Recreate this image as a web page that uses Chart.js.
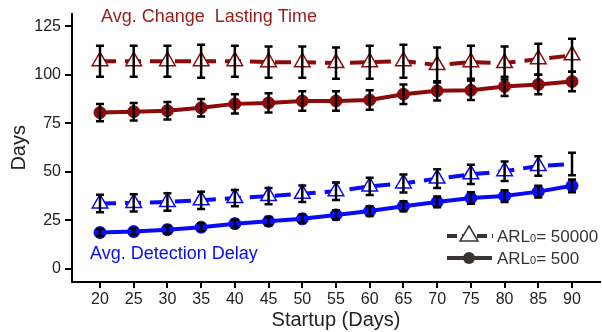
<!DOCTYPE html>
<html>
<head>
<meta charset="utf-8">
<script src="https://cdn.jsdelivr.net/npm/chart.js@4/dist/chart.umd.min.js"></script>
<style>
  html, body { margin: 0; padding: 0; background: #fff; }
  #wrap { width: 602px; height: 332px; position: relative; }
</style>
</head>
<body>
<div id="wrap"><canvas id="chart"></canvas></div>
<script>
// startup lengths (days)
const days = [20, 25, 30, 35, 40, 45, 50, 55, 60, 65, 70, 75, 80, 85, 90];
const yTicks = [0, 25, 50, 75, 100, 125];

// avg. change lasting time
const lastingHigh = [107, 107, 107, 107, 107, 106.5, 106.5, 106, 106.5, 107, 105, 106.5, 106, 108, 110];
const lastingHighErr = [8, 8, 8, 8.5, 8, 8, 8, 8, 8.5, 8.5, 9, 8.5, 8.5, 8, 8.5];
const lastingLow = [80.5, 81, 81.5, 83, 85, 85.5, 86.5, 86.5, 87, 90, 91.7, 92, 94, 95, 96.5];
const lastingLowErr = [4.5, 4.5, 4.5, 4.5, 5, 5, 5, 5, 5, 5, 5, 5, 5, 5, 5];

// avg. detection delay
const delayHigh = [33.7, 34, 34.5, 35.3, 36.5, 37.5, 38.7, 40, 42.5, 44, 46.5, 48.7, 50.3, 53, 54];
const delayHighErr = [4.5, 4.5, 4.5, 4.5, 4.2, 4.2, 4.3, 4.5, 4.5, 4.6, 4.8, 5, 5, 5, 5.8];
const delayLow = [18.7, 19.2, 20.2, 21.5, 23.3, 24.5, 25.8, 27.8, 29.8, 32.3, 34.5, 36.5, 37.5, 39.8, 42.8];
const delayLowErr = [1.8, 1.8, 2, 2, 2, 2.2, 2.2, 2.4, 2.5, 2.6, 2.8, 3, 3, 3, 3.3];

const RED = '#8b0a0a';
const BLUE = '#0a0af5';
const FONT = '"Liberation Sans", Arial, sans-serif';

function pts(vals) { return vals.map((v, i) => ({ x: days[i], y: v })); }

const triDs = (label, vals, err, color) => ({
  label, data: pts(vals), err,
  borderColor: color, borderWidth: 4, borderDash: [16, 9],
  pointStyle: 'triangle', pointRadius: vals.map((v, i) => i === vals.length - 1 && color === BLUE ? 0 : 9),
  pointBackgroundColor: '#fff', pointBorderColor: color, pointBorderWidth: 1.5,
  tension: 0
});
const dotDs = (label, vals, err, color) => ({
  label, data: pts(vals), err,
  borderColor: color, borderWidth: 4,
  pointStyle: 'circle', pointRadius: 6,
  pointBackgroundColor: color, pointBorderColor: color, pointBorderWidth: 1,
  tension: 0
});

const errorBars = {
  id: 'errorBars',
  afterDatasetsDraw(chart) {
    const ctx = chart.ctx, ys = chart.scales.y, xs = chart.scales.x;
    ctx.save();
    ctx.strokeStyle = '#000';
    ctx.lineWidth = 2.5;
    chart.data.datasets.forEach(ds => {
      ds.data.forEach((p, i) => {
        const x = xs.getPixelForValue(p.x);
        const t = ys.getPixelForValue(p.y + ds.err[i]);
        const b = ys.getPixelForValue(p.y - ds.err[i]);
        ctx.beginPath();
        ctx.moveTo(x, t); ctx.lineTo(x, b);
        ctx.moveTo(x - 4, t); ctx.lineTo(x + 4, t);
        ctx.moveTo(x - 4, b); ctx.lineTo(x + 4, b);
        ctx.stroke();
      });
    });
    ctx.restore();
  }
};

const labels = {
  id: 'labels',
  afterDraw(chart) {
    const ctx = chart.ctx;
    ctx.save();
    ctx.font = '18px ' + FONT;
    ctx.textBaseline = 'alphabetic';
    ctx.fillStyle = '#9a1a1a';
    ctx.fillText('Avg. Change  Lasting Time', 101, 22);
    ctx.fillStyle = BLUE;
    ctx.fillText('Avg. Detection Delay', 90, 259);

    // legend
    const lc = '#3a3330';
    ctx.strokeStyle = lc;
    ctx.lineWidth = 4;
    ctx.setLineDash([10, 5]);
    ctx.beginPath(); ctx.moveTo(447, 236); ctx.lineTo(493, 236); ctx.stroke();
    ctx.setLineDash([]);
    ctx.beginPath(); ctx.moveTo(447, 258); ctx.lineTo(492, 258); ctx.stroke();
    ctx.lineWidth = 1.5;
    ctx.fillStyle = '#fff';
    ctx.beginPath();
    ctx.moveTo(469, 226); ctx.lineTo(478, 241); ctx.lineTo(460, 241); ctx.closePath();
    ctx.fill(); ctx.stroke();
    ctx.fillStyle = lc;
    ctx.beginPath(); ctx.arc(469, 258, 6, 0, Math.PI * 2); ctx.fill();

    ctx.fillStyle = '#333';
    [['50000', 242], ['500', 264]].forEach(([v, y]) => {
      ctx.font = '17px ' + FONT;
      let x = 497;
      ctx.fillText('ARL', x, y); x += ctx.measureText('ARL').width;
      ctx.font = '11px ' + FONT;
      ctx.fillText('0', x, y); x += ctx.measureText('0').width;
      ctx.font = '17px ' + FONT;
      ctx.fillText('= ' + v, x, y);
    });
    ctx.restore();
  }
};

new Chart(document.getElementById('chart'), {
  type: 'line',
  data: {
    datasets: [
      triDs('Lasting ARL0=50000', lastingHigh, lastingHighErr, RED),
      dotDs('Lasting ARL0=500', lastingLow, lastingLowErr, RED),
      triDs('Delay ARL0=50000', delayHigh, delayHighErr, BLUE),
      dotDs('Delay ARL0=500', delayLow, delayLowErr, BLUE)
    ]
  },
  options: {
    responsive: true,
    maintainAspectRatio: false,
    animation: false,
    layout: { autoPadding: false, padding: { top: 7, right: 2, left: 0, bottom: 0 } },
    plugins: { legend: { display: false }, tooltip: { enabled: false } },
    scales: {
      x: {
        type: 'linear',
        min: 15.85, max: 94.15,
        afterBuildTicks: s => { s.ticks = days.map(v => ({ value: v })); },
        afterFit: s => { s.height = 50; },
        border: { display: true, color: '#000', width: 2 },
        grid: { drawOnChartArea: false, drawTicks: true, tickLength: 6, color: '#000', lineWidth: 2 },
        ticks: { color: '#222', font: { family: FONT, size: 16 }, padding: 2, maxRotation: 0, autoSkip: false },
        title: { display: true, text: 'Startup (Days)', color: '#222', font: { family: FONT, size: 20 }, padding: { top: 0, bottom: 0 } }
      },
      y: {
        min: -6.75, max: 131.5,
        afterBuildTicks: s => { s.ticks = yTicks.map(v => ({ value: v })); },
        afterFit: s => { s.width = 72; },
        border: { display: true, color: '#000', width: 2 },
        grid: { drawOnChartArea: false, drawTicks: true, tickLength: 7, color: '#000', lineWidth: 2 },
        ticks: { color: '#222', font: { family: FONT, size: 16 }, padding: 4 },
        title: { display: true, text: 'Days', color: '#222', font: { family: FONT, size: 20 }, padding: { top: 7, bottom: 4 } }
      }
    }
  },
  plugins: [errorBars, labels]
});
</script>
</body>
</html>
